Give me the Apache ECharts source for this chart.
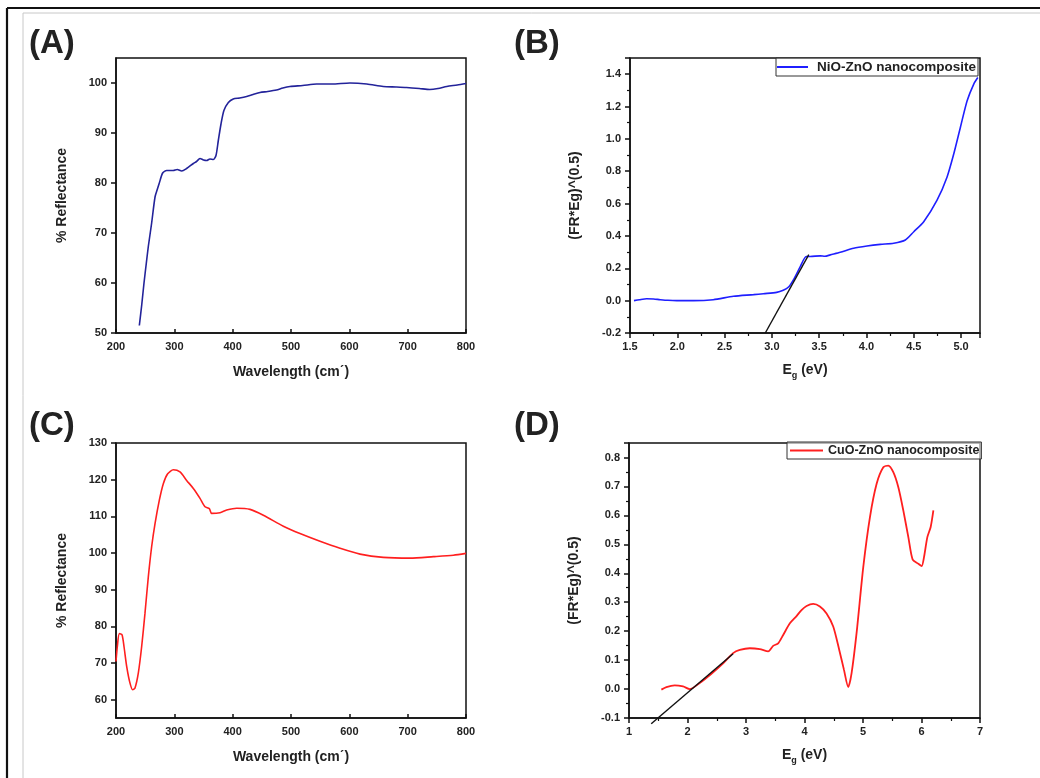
<!DOCTYPE html>
<html>
<head>
<meta charset="utf-8">
<script src="https://cdn.jsdelivr.net/npm/echarts@6/dist/echarts.min.js"></script>
<style>
  html, body { margin: 0; padding: 0; background: #ffffff; }
  #chart { width: 1040px; height: 778px; }
</style>
</head>
<body>
<div id="chart"></div>
<script>
// (A) NiO-ZnO diffuse reflectance: [wavelength, % reflectance]
const reflNiO = [
  [240, 51.5], [244, 55.5], [248, 60], [252, 64], [255.4, 67.3], [261, 71.9], [266.9, 77.2],
  [271, 78.8], [274, 79.9], [280, 82], [286.9, 82.5], [298, 82.5], [305, 82.7], [312.6, 82.4],
  [321, 82.9], [332.6, 83.9], [338, 84.3], [344, 84.9], [350, 84.6], [355.4, 84.5], [361, 84.8],
  [366.9, 84.7], [371.4, 85.5], [375.4, 88.5], [380, 91.8], [385, 94.5], [392.6, 96.1],
  [401, 96.8], [412, 97.0], [424, 97.3], [435, 97.7], [446.9, 98.1], [460, 98.3], [475, 98.6],
  [486, 99.0], [498.3, 99.3], [520, 99.5], [544, 99.8], [570, 99.8], [601, 100],
  [630, 99.8], [658, 99.3], [680, 99.2], [698, 99.1], [720, 98.9], [738, 98.7], [752, 98.9],
  [767, 99.3], [785, 99.6], [800, 99.9]
];

// (B) NiO-ZnO Kubelka-Munk plot: [Eg (eV), (FR*Eg)^0.5]
const kmNiO = [
  [1.542, 0.0], [1.6, 0.006], [1.676, 0.012], [1.75, 0.01], [1.818, 0.006], [1.9, 0.002],
  [1.994, 0.0], [2.17, 0.0], [2.38, 0.006], [2.594, 0.027], [2.806, 0.037], [2.91, 0.043],
  [3.05, 0.051], [3.12, 0.064], [3.176, 0.084], [3.229, 0.13], [3.30, 0.21], [3.363, 0.273],
  [3.405, 0.273], [3.511, 0.277], [3.56, 0.274], [3.617, 0.283], [3.723, 0.299], [3.864, 0.324],
  [4.005, 0.338], [4.146, 0.348], [4.288, 0.355], [4.411, 0.375], [4.5, 0.426], [4.605, 0.488],
  [4.746, 0.621], [4.852, 0.765], [4.923, 0.908], [4.993, 1.072], [5.064, 1.236],
  [5.134, 1.339], [5.177, 1.379]
];
// Band-gap extrapolation line for (B)
const tangentNiO = [[2.93, -0.2], [3.39, 0.285]];

// (C) CuO-ZnO diffuse reflectance: [wavelength, % reflectance]
const reflCuO = [
  [200, 70.4], [202.3, 74.5], [205.7, 78], [210.3, 77.7], [213.7, 74.5], [218.3, 69.1],
  [224, 64.5], [228.6, 62.7], [232.6, 63.2], [238.3, 67.3], [244, 74.5], [249.7, 83.6],
  [255.4, 93.5], [261.1, 101.7], [266.9, 108], [274.3, 114.4], [281.1, 118.9], [288.6, 121.6],
  [298.3, 122.7], [309.7, 122.1], [321.1, 119.8], [332.6, 117.6], [344, 114.9], [352.6, 112.6],
  [360, 112.1], [364, 110.8], [378.3, 111], [389.7, 111.7], [406.9, 112.2], [429.7, 111.9],
  [452.6, 110.3], [486.9, 107.3], [515.4, 105.3], [549.7, 103.2], [584, 101.3], [618.3, 99.7],
  [658.3, 98.8], [704, 98.6], [744, 99], [778.3, 99.4], [800, 99.9]
];

// (D) CuO-ZnO Kubelka-Munk plot: [Eg (eV), (FR*Eg)^0.5]
const kmCuO = [
  [1.553, -0.002], [1.639, 0.007], [1.781, 0.013], [1.924, 0.009], [2.038, 0.0], [2.209, 0.021],
  [2.409, 0.053], [2.609, 0.089], [2.78, 0.124], [2.894, 0.135], [3.065, 0.141], [3.236, 0.138],
  [3.379, 0.13], [3.464, 0.149], [3.55, 0.158], [3.636, 0.187], [3.75, 0.227], [3.864, 0.252],
  [3.949, 0.273], [4.035, 0.287], [4.149, 0.294], [4.263, 0.285], [4.377, 0.261], [4.491, 0.216],
  [4.594, 0.135], [4.674, 0.067], [4.748, 0.007], [4.805, 0.055], [4.89, 0.193], [5.005, 0.422],
  [5.119, 0.594], [5.233, 0.709], [5.347, 0.766], [5.432, 0.772], [5.518, 0.749], [5.604, 0.697],
  [5.689, 0.617], [5.775, 0.525], [5.849, 0.447], [5.946, 0.433], [6.003, 0.425], [6.043, 0.456],
  [6.1, 0.525], [6.157, 0.56], [6.203, 0.617]
];
// Band-gap extrapolation line for (D)
const tangentCuO = [[1.38, -0.12], [2.78, 0.122]];

const panelLetters = ['(A)', '(B)', '(C)', '(D)'];
const nameNiO = 'NiO-ZnO nanocomposite';
const nameCuO = 'CuO-ZnO nanocomposite';

const FONT = 'Liberation Sans, Arial, sans-serif';
const INK = '#222';

const chart = echarts.init(document.getElementById('chart'), null, { renderer: 'canvas' });

const grids = [
  { left: 116, top: 58, width: 350, height: 275 },
  { left: 630, top: 58, width: 350, height: 275 },
  { left: 116, top: 443, width: 350, height: 275 },
  { left: 629, top: 443, width: 351, height: 275 }
].map(g => Object.assign(g, { show: true, borderColor: '#111', borderWidth: 1.5, backgroundColor: 'transparent' }));

const axisLine = { show: true, onZero: false, lineStyle: { color: '#111', width: 1.5 } };
const labelStyle = { color: INK, fontFamily: FONT, fontWeight: 'bold', fontSize: 11 };
const nameStyle = { color: INK, fontFamily: FONT, fontWeight: 'bold', fontSize: 14 };
const egName = '{e|E}{s|g}{e| (eV)}';
const egNameStyle = {
  color: INK, fontFamily: FONT, fontWeight: 'bold', fontSize: 14,
  rich: {
    e: { color: INK, fontFamily: FONT, fontWeight: 'bold', fontSize: 14 },
    s: { color: INK, fontFamily: FONT, fontWeight: 'bold', fontSize: 9, padding: [10, 0, 0, 0] }
  }
};

function xWave(i) {
  return {
    type: 'value', gridIndex: i, min: 200, max: 800, interval: 100,
    name: 'Wavelength (cm\u02CA)', nameLocation: 'middle', nameGap: 32, nameTextStyle: nameStyle,
    axisLine, axisTick: { show: true, inside: true, length: 4, lineStyle: { color: '#111', width: 1.5 } },
    axisLabel: Object.assign({ margin: 8 }, labelStyle),
    splitLine: { show: false }
  };
}

const option = {
  backgroundColor: '#ffffff',
  animation: false,
  grid: grids,
  legend: [
    {
      data: [nameNiO], left: 776, top: 58, orient: 'horizontal',
      icon: 'rect', itemWidth: 31, itemHeight: 2, padding: [2, 2, 2, 1],
      borderColor: '#333', borderWidth: 1, backgroundColor: 'rgba(255,255,255,0.6)',
      textStyle: { color: INK, fontFamily: FONT, fontWeight: 'bold', fontSize: 13.5, padding: [0, 0, 0, 4] }
    },
    {
      data: [nameCuO], left: 787, top: 442, orient: 'horizontal',
      icon: 'rect', itemWidth: 33, itemHeight: 2, padding: [2, 2, 2, 3],
      borderColor: '#333', borderWidth: 1, backgroundColor: 'rgba(255,255,255,0.6)',
      textStyle: { color: INK, fontFamily: FONT, fontWeight: 'bold', fontSize: 12.5, padding: [0, 0, 0, 0] }
    }
  ],
  xAxis: [
    xWave(0),
    {
      type: 'value', gridIndex: 1, min: 1.5, max: 5.2, interval: 0.5,
      name: egName, nameLocation: 'middle', nameGap: 28, nameTextStyle: egNameStyle,
      axisLine, axisTick: { show: true, length: 5, lineStyle: { color: '#111', width: 1.5 } },
      minorTick: { show: true, splitNumber: 2, length: 3, lineStyle: { color: '#111', width: 1.2 } },
      axisLabel: Object.assign({ margin: 8, showMaxLabel: false, formatter: v => v.toFixed(1) }, labelStyle),
      splitLine: { show: false }
    },
    xWave(2),
    {
      type: 'value', gridIndex: 3, min: 1, max: 7, interval: 1,
      name: egName, nameLocation: 'middle', nameGap: 28, nameTextStyle: egNameStyle,
      axisLine, axisTick: { show: true, length: 5, lineStyle: { color: '#111', width: 1.5 } },
      minorTick: { show: true, splitNumber: 2, length: 3, lineStyle: { color: '#111', width: 1.2 } },
      axisLabel: Object.assign({ margin: 8 }, labelStyle),
      splitLine: { show: false }
    }
  ],
  yAxis: [
    {
      type: 'value', gridIndex: 0, min: 50, max: 105, interval: 10,
      name: '% Reflectance', nameLocation: 'middle', nameGap: 47, nameTextStyle: nameStyle,
      axisLine, axisTick: { show: true, length: 5, lineStyle: { color: '#111', width: 1.5 } },
      axisLabel: Object.assign({ margin: 9, showMaxLabel: false }, labelStyle),
      splitLine: { show: false }
    },
    {
      type: 'value', gridIndex: 1, min: -0.2, max: 1.5, interval: 0.2,
      name: '(FR*Eg)^(0.5)', nameLocation: 'middle', nameGap: 48, nameTextStyle: nameStyle,
      axisLine, axisTick: { show: true, length: 5, lineStyle: { color: '#111', width: 1.5 } },
      minorTick: { show: true, splitNumber: 2, length: 3, lineStyle: { color: '#111', width: 1.2 } },
      axisLabel: Object.assign({ margin: 9, showMaxLabel: false, formatter: v => v.toFixed(1) }, labelStyle),
      splitLine: { show: false }
    },
    {
      type: 'value', gridIndex: 2, min: 55, max: 130, splitNumber: 8,
      name: '% Reflectance', nameLocation: 'middle', nameGap: 47, nameTextStyle: nameStyle,
      axisLine, axisTick: { show: true, length: 5, lineStyle: { color: '#111', width: 1.5 } },
      axisLabel: Object.assign({ margin: 9, showMinLabel: false, formatter: v => (v % 10 === 0 ? String(v) : '') }, labelStyle),
      splitLine: { show: false }
    },
    {
      type: 'value', gridIndex: 3, min: -0.1, max: 0.85, interval: 0.1,
      name: '(FR*Eg)^(0.5)', nameLocation: 'middle', nameGap: 48, nameTextStyle: nameStyle,
      axisLine, axisTick: { show: true, length: 5, lineStyle: { color: '#111', width: 1.5 } },
      minorTick: { show: true, splitNumber: 2, length: 3, lineStyle: { color: '#111', width: 1.2 } },
      axisLabel: Object.assign({ margin: 9, showMaxLabel: false, formatter: v => v.toFixed(1) }, labelStyle),
      splitLine: { show: false }
    }
  ],
  series: [
    {
      type: 'line', xAxisIndex: 0, yAxisIndex: 0, data: reflNiO, showSymbol: false, smooth: 0.25,
      lineStyle: { color: '#23239a', width: 1.6 }, itemStyle: { color: '#23239a' }
    },
    {
      name: nameNiO, type: 'line', xAxisIndex: 1, yAxisIndex: 1, data: kmNiO, showSymbol: false, smooth: 0.25,
      lineStyle: { color: '#1f1fff', width: 1.6 }, itemStyle: { color: '#1f1fff' }
    },
    {
      type: 'line', xAxisIndex: 1, yAxisIndex: 1, data: tangentNiO, showSymbol: false,
      lineStyle: { color: '#111', width: 1.4 }, clip: false
    },
    {
      type: 'line', xAxisIndex: 2, yAxisIndex: 2, data: reflCuO, showSymbol: false, smooth: 0.25,
      lineStyle: { color: '#ff1f1f', width: 1.6 }, itemStyle: { color: '#ff1f1f' }
    },
    {
      name: nameCuO, type: 'line', xAxisIndex: 3, yAxisIndex: 3, data: kmCuO, showSymbol: false, smooth: 0.25,
      lineStyle: { color: '#ff1f1f', width: 1.8 }, itemStyle: { color: '#ff1f1f' }
    },
    {
      type: 'line', xAxisIndex: 3, yAxisIndex: 3, data: tangentCuO, showSymbol: false,
      lineStyle: { color: '#111', width: 1.4 }, clip: false
    }
  ],
  graphic: [
    // outer frame: heavy black rule plus thin grey inner rule
    { type: 'line', shape: { x1: 7, y1: 8, x2: 1040, y2: 8 }, style: { stroke: '#111', lineWidth: 2.2 } },
    { type: 'line', shape: { x1: 7, y1: 8, x2: 7, y2: 778 }, style: { stroke: '#111', lineWidth: 2.2 } },
    { type: 'line', shape: { x1: 23, y1: 13, x2: 1040, y2: 13 }, style: { stroke: '#c8c8c8', lineWidth: 1 } },
    { type: 'line', shape: { x1: 23, y1: 13, x2: 23, y2: 778 }, style: { stroke: '#c8c8c8', lineWidth: 1 } },
    { type: 'text', left: 29, top: 27, style: { text: panelLetters[0], fill: INK, font: 'bold 33px ' + FONT } },
    { type: 'text', left: 514, top: 27, style: { text: panelLetters[1], fill: INK, font: 'bold 33px ' + FONT } },
    { type: 'text', left: 29, top: 409, style: { text: panelLetters[2], fill: INK, font: 'bold 33px ' + FONT } },
    { type: 'text', left: 514, top: 409, style: { text: panelLetters[3], fill: INK, font: 'bold 33px ' + FONT } }
  ]
};

chart.setOption(option);
</script>
</body>
</html>
